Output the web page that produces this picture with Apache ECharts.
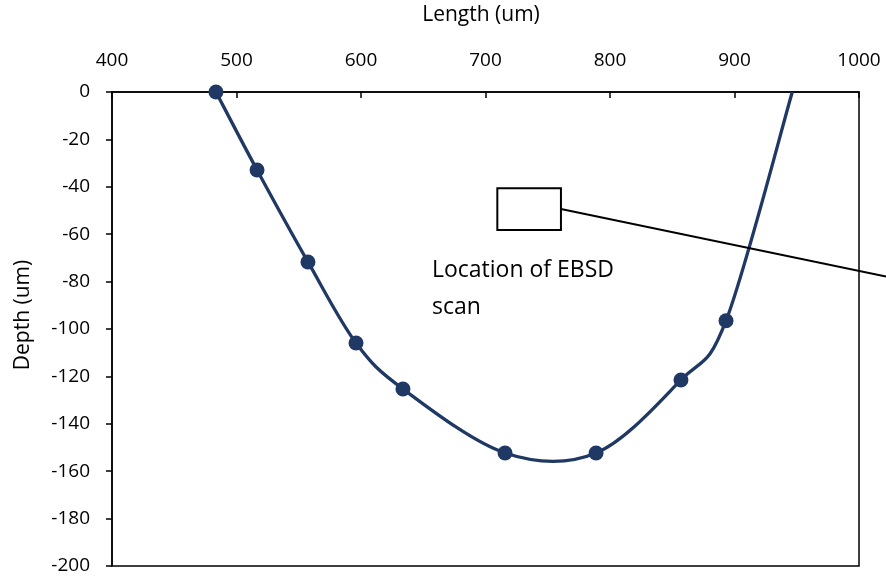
<!DOCTYPE html>
<html>
<head>
<meta charset="utf-8">
<script src="https://cdn.jsdelivr.net/npm/echarts@6/dist/echarts.min.js"></script>
<style>
  html, body { margin: 0; padding: 0; background: #fff; }
  #chart { width: 886px; height: 576px; }
</style>
</head>
<body>
<div id="chart"></div>
<script>
// Measured pit profile: horizontal position and depth
const lengthUm = [483.5, 516.5, 557.4, 596, 633.7, 715.7, 788.8, 857, 893.2, 946.4];
const depthUm  = [0, -32.9, -71.7, -105.9, -125.3, -152.3, -152.3, -121.5, -96.5, 0];
// last profile point is where the curve reaches the surface (no marker)
const markerShown = [true, true, true, true, true, true, true, true, true, false];

const xTicks = { min: 400, max: 1000, step: 100 };
const yTicks = { min: -200, max: 0, step: 20 };

// EBSD scan box (data units) and its leader line
const scanBoxX = [709.5, 760.6];
const scanBoxY = [-40.6, -58.2];
const leaderEnd = [1021.7, -77.9];
const scanLabelLines = ['Location of EBSD', 'scan'];
const scanLabelAt = [657, -67.5];

const font = 'Open Sans, Noto Sans, sans-serif';
const navy = '#203864';

const chart = echarts.init(document.getElementById('chart'));

const profile = lengthUm.map((x, i) => [x, depthUm[i]]);
const markers = profile.filter((p, i) => markerShown[i]);

// Smooth profile curve: cubic Bezier segments with Catmull-Rom style tangents
function renderProfile(params, api) {
  if (params.dataIndex !== 0) return null;
  const pts = profile.map(p => api.coord(p));
  const n = pts.length;
  const t = 1 / 6;
  let d = 'M' + pts[0][0] + ' ' + pts[0][1];
  for (let i = 0; i < n - 1; i++) {
    const p0 = pts[Math.max(i - 1, 0)];
    const p1 = pts[i];
    const p2 = pts[i + 1];
    const p3 = pts[Math.min(i + 2, n - 1)];
    const c1 = [p1[0] + (p2[0] - p0[0]) * t, p1[1] + (p2[1] - p0[1]) * t];
    const c2 = [p2[0] - (p3[0] - p1[0]) * t, p2[1] - (p3[1] - p1[1]) * t];
    d += ' C' + c1[0] + ' ' + c1[1] + ' ' + c2[0] + ' ' + c2[1] + ' ' + p2[0] + ' ' + p2[1];
  }
  return {
    type: 'path',
    shape: { pathData: d },
    style: { fill: 'none', stroke: navy, lineWidth: 3.3 }
  };
}

chart.setOption({
  animation: false,
  backgroundColor: '#fff',
  grid: {
    left: 112, right: 27, top: 92, bottom: 10,
    show: true, borderColor: '#000', borderWidth: 1.5, backgroundColor: 'transparent'
  },
  xAxis: {
    type: 'value',
    position: 'top',
    min: xTicks.min, max: xTicks.max, interval: xTicks.step,
    name: 'Length (um)',
    nameLocation: 'middle',
    nameGap: 66,
    nameTextStyle: { fontFamily: font, fontSize: 21, color: '#000', padding: [0, 9, 0, 0] },
    axisLine: { show: true, lineStyle: { color: '#000', width: 1.5 } },
    axisTick: { show: true, inside: true, length: 6, lineStyle: { color: '#000', width: 1.5 } },
    axisLabel: { fontFamily: font, fontSize: 19, color: '#000', margin: 22, formatter: v => String(v) },
    splitLine: { show: false }
  },
  yAxis: {
    type: 'value',
    min: yTicks.min, max: yTicks.max, interval: yTicks.step,
    axisLine: { show: true, lineStyle: { color: '#000', width: 1.5 } },
    axisTick: { show: true, inside: false, length: 6, lineStyle: { color: '#000', width: 1.5 } },
    axisLabel: { fontFamily: font, fontSize: 19, color: '#000', margin: 22 },
    splitLine: { show: false }
  },
  series: [
    {
      type: 'custom',
      renderItem: renderProfile,
      data: profile,
      z: 2
    },
    {
      type: 'scatter',
      data: markers,
      symbol: 'circle',
      symbolSize: 15,
      itemStyle: { color: navy, opacity: 1 },
      z: 3
    }
  ]
});

// Annotation: scan box, leader line and label, placed from data coordinates
const px = p => chart.convertToPixel({ gridIndex: 0 }, p);
const boxA = px([scanBoxX[0], scanBoxY[0]]);
const boxB = px([scanBoxX[1], scanBoxY[1]]);
const leadStart = [boxB[0], (boxA[1] + boxB[1]) / 2];
const leadEnd = px(leaderEnd);
const labelPos = px(scanLabelAt);

chart.setOption({
  graphic: [
    {
      type: 'rect',
      shape: { x: boxA[0], y: boxA[1], width: boxB[0] - boxA[0], height: boxB[1] - boxA[1] },
      style: { fill: '#fff', stroke: '#000', lineWidth: 2 },
      z: 100
    },
    {
      type: 'line',
      shape: { x1: leadStart[0], y1: leadStart[1], x2: leadEnd[0], y2: leadEnd[1] },
      style: { stroke: '#000', lineWidth: 2 },
      z: 100
    },
    {
      type: 'text',
      x: labelPos[0], y: labelPos[1],
      style: {
        text: scanLabelLines.join('\n'),
        fontFamily: font, fontSize: 23, lineHeight: 37, fill: '#000'
      },
      z: 100
    },
    {
      type: 'text',
      x: 23, y: 315,
      rotation: Math.PI / 2,
      style: {
        text: 'Depth (um)',
        fontFamily: font, fontSize: 21, fill: '#000',
        align: 'center', verticalAlign: 'middle'
      },
      z: 100
    }
  ]
});
</script>
</body>
</html>
